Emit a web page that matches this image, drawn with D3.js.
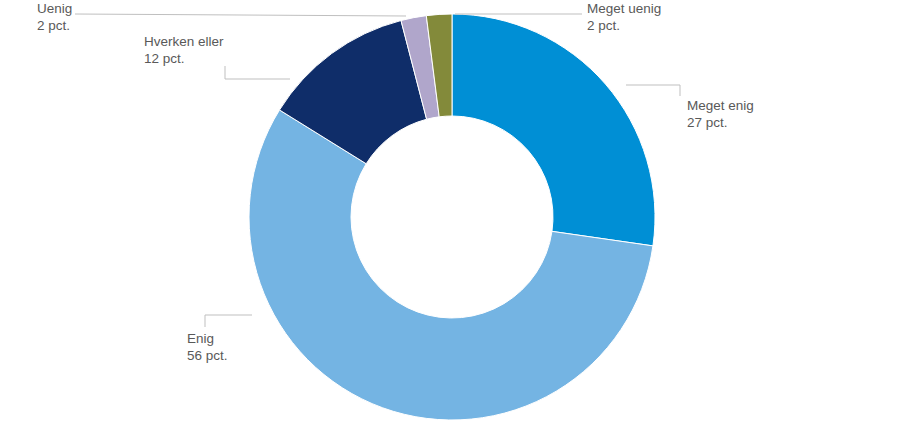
<!DOCTYPE html>
<html><head><meta charset="utf-8">
<script src="https://cdn.jsdelivr.net/npm/d3@7"></script>
<style>body{margin:0;background:#fff}text{font-family:"Liberation Sans",Arial,sans-serif;font-size:13.5px;fill:#595959}</style>
</head><body><svg id="c" width="905" height="434"></svg>
<script>
const categories = ["Meget enig","Enig","Hverken eller","Uenig","Meget uenig"];
const values = [27,56,12,2,2];
const valueLabels = ["27 pct.","56 pct.","12 pct.","2 pct.","2 pct."];
const colors = ["#008fd5","#74b4e3","#0f2d69","#b0a6cb","#838a3a"];

const svg = d3.select("#c");
const cx = 452, cy = 217, R = 203, r = 101;
const g = svg.append("g").attr("transform", `translate(${cx},${cy})`);
const pie = d3.pie().sort(null).value(d => d)(values);
const arc = d3.arc().innerRadius(r).outerRadius(R);
g.selectAll("path").data(pie).join("path")
  .attr("d", arc).attr("fill", (d,i) => colors[i])
  .attr("stroke", "#fff").attr("stroke-width", 1);

// label placement (leader polyline points, text anchor)
const labels = [
  {pts:[[626,85],[680,85],[680,96]], tx:687, ty:110},
  {pts:[[252,315],[205,315],[205,327]], tx:187, ty:343},
  {pts:[[290,79],[225,79],[225,66]], tx:144, ty:46},
  {pts:[[406,16],[75,14]], tx:37, ty:13},
  {pts:[[455,14],[582,14]], tx:587, ty:13}
];
labels.forEach((l,i) => {
  svg.append("polyline").attr("points", l.pts.map(p=>p.join(",")).join(" "))
    .attr("fill","none").attr("stroke","#bfbfbf").attr("stroke-width",1);
  const t = svg.append("text").attr("x", l.tx).attr("y", l.ty);
  t.append("tspan").attr("x", l.tx).text(categories[i]);
  t.append("tspan").attr("x", l.tx).attr("dy", 17).text(valueLabels[i]);
});
</script></body></html>
